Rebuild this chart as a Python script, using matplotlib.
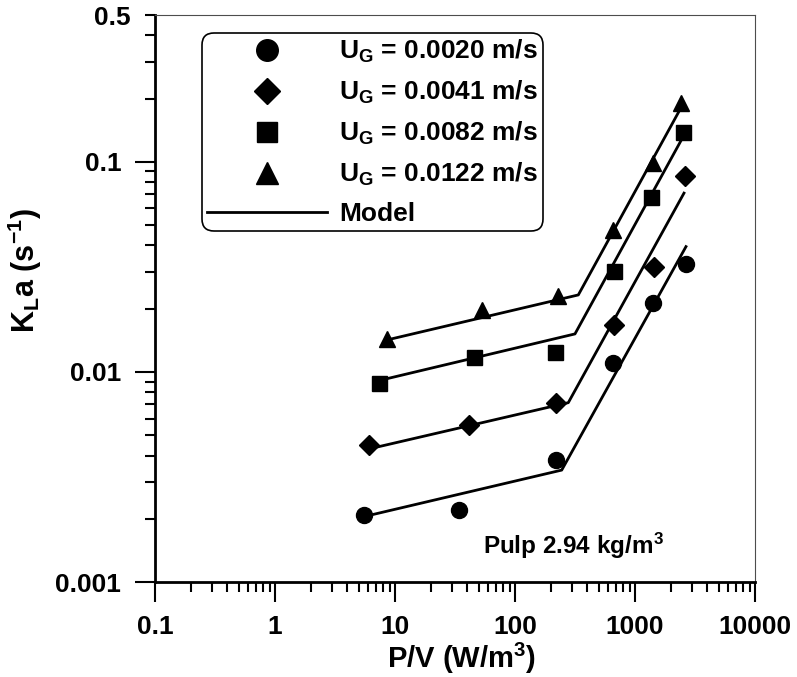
import matplotlib
matplotlib.use('Agg')
import matplotlib.pyplot as plt
from matplotlib.ticker import LogLocator, NullFormatter, FuncFormatter

# bold Arial-like text everywhere, math parts too
plt.rcParams['font.family'] = 'Liberation Sans'
plt.rcParams['font.weight'] = 'bold'
plt.rcParams['axes.labelweight'] = 'bold'
plt.rcParams['mathtext.fontset'] = 'custom'
plt.rcParams['mathtext.rm'] = 'Liberation Sans:bold'
plt.rcParams['mathtext.it'] = 'Liberation Sans:bold'
plt.rcParams['mathtext.bf'] = 'Liberation Sans:bold'

# measured points, P/V (W/m3) and KLa (1/s)
pv_0020 = [5.55, 34.3, 218, 652, 1404, 2646]
kla_0020 = [0.00208, 0.00219, 0.00381, 0.0110, 0.0212, 0.0327]
pv_0041 = [6.11, 41.6, 218, 668, 1440, 2610]
kla_0041 = [0.00449, 0.00559, 0.00709, 0.0167, 0.0315, 0.0858]
pv_0082 = [7.40, 45.3, 215, 662, 1352, 2497]
kla_0082 = [0.00884, 0.01175, 0.01241, 0.0302, 0.0684, 0.139]
pv_0122 = [8.53, 52.8, 230, 659, 1404, 2404]
kla_0122 = [0.01431, 0.01974, 0.02308, 0.0475, 0.0986, 0.190]

# model lines (start, break, end)
model_pv_0020 = [5.55, 245, 2660]
model_kla_0020 = [0.00205, 0.00341, 0.0395]
model_pv_0041 = [6.39, 278, 2560]
model_kla_0041 = [0.00433, 0.00714, 0.0710]
model_pv_0082 = [7.74, 316, 2450]
model_kla_0082 = [0.00916, 0.01517, 0.128]
model_pv_0122 = [9.08, 337, 2404]
model_kla_0122 = [0.01431, 0.02326, 0.180]

labels = [r'U$_{\rm G}$ = 0.0020 m/s', r'U$_{\rm G}$ = 0.0041 m/s',
          r'U$_{\rm G}$ = 0.0082 m/s', r'U$_{\rm G}$ = 0.0122 m/s']

x_ticks = [0.1, 1, 10, 100, 1000, 10000]
x_tick_labels = ['0.1', '1', '10', '100', '1000', '10000']
y_ticks = [0.001, 0.01, 0.1]
y_tick_labels = ['0.001', '0.01', '0.1']

fig = plt.figure(figsize=(7.97, 6.77), dpi=100)
ax = fig.add_axes([0.1945, 0.1403, 0.7528, 0.8375])
ax.set_xscale('log')
ax.set_yscale('log')

h1, = ax.plot(pv_0020, kla_0020, 'o', color='black', ms=11.5, ls='none')
h2, = ax.plot(pv_0041, kla_0041, 'D', color='black', ms=10, ls='none')
h3, = ax.plot(pv_0082, kla_0082, 's', color='black', ms=10.8, ls='none')
h4, = ax.plot(pv_0122, kla_0122, '^', color='black', ms=12, ls='none')

hm, = ax.plot(model_pv_0020, model_kla_0020, '-', color='black', lw=2)
ax.plot(model_pv_0041, model_kla_0041, '-', color='black', lw=2)
ax.plot(model_pv_0082, model_kla_0082, '-', color='black', lw=2)
ax.plot(model_pv_0122, model_kla_0122, '-', color='black', lw=2)

ax.set_xlim(0.1, 10000)
ax.set_ylim(0.001, 0.5)

ax.set_xticks(x_ticks, x_tick_labels)
ax.set_yticks(y_ticks, y_tick_labels)
ax.xaxis.set_minor_locator(LogLocator(base=10, subs=range(2, 10)))
ax.yaxis.set_minor_locator(LogLocator(base=10, subs=range(2, 10)))
ax.xaxis.set_minor_formatter(NullFormatter())
ax.yaxis.set_minor_formatter(FuncFormatter(lambda v, p: '0.5' if abs(v - 0.5) < 1e-9 else ''))

ax.tick_params(which='both', direction='out', width=1.5, labelsize=19)
ax.tick_params(which='major', length=14.4)
ax.tick_params(which='minor', length=7.5)
ax.tick_params(axis='x', which='both', pad=9)
ax.tick_params(axis='y', which='both', pad=10)

for side in ['left', 'bottom']:
    ax.spines[side].set_linewidth(2)
for side in ['top', 'right']:
    ax.spines[side].set_linewidth(0.8)
    ax.spines[side].set_color('0.3')

ax.set_xlabel(r'P/V (W/m$^{3}$)', fontsize=21, fontweight='bold')
ax.set_ylabel(r'K$_{\rm L}$a (s$^{-1}$)', fontsize=22, fontweight='bold')
ax.xaxis.set_label_coords(0.51, -0.103)
ax.yaxis.set_label_coords(-0.185, 0.55)

ax.text(0.547, 0.049, r'Pulp 2.94 kg/m$^{3}$', transform=ax.transAxes,
        fontsize=17.5, ha='left', va='baseline')

leg = ax.legend([h1, h2, h3, h4, hm], labels + ['Model'],
                loc='upper left', bbox_to_anchor=(0.2535, 0.9513),
                bbox_transform=fig.transFigure, borderaxespad=0,
                fontsize=19, markerscale=1.35, handlelength=4.55,
                handletextpad=0.45, borderpad=0.2, labelspacing=0.52,
                frameon=True, fancybox=True, framealpha=1, edgecolor='black')
leg.get_frame().set_linewidth(1.2)
leg.get_frame().set_boxstyle('round,pad=0,rounding_size=0.45')

fig.savefig('out.png', dpi=100)
